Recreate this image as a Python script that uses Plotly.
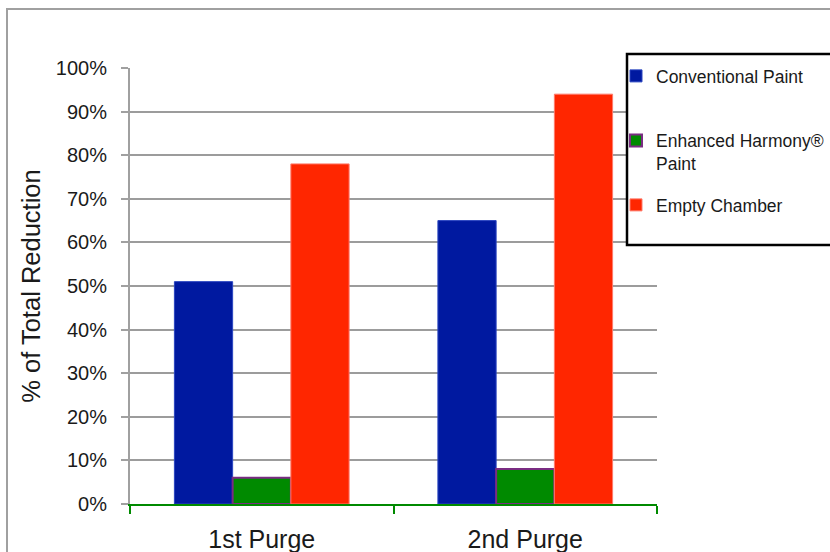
import plotly.graph_objects as go

# Purge results: share of total reduction (%) per test condition
categories = ["1st Purge", "2nd Purge"]
series_names = ["Conventional Paint<br>&nbsp;", "Enhanced Harmony®<br>Paint", "Empty Chamber<br>&nbsp;"]
conventional = [51, 65]
enhanced = [6, 8]
empty_chamber = [78, 94]
y_ticks = [0, 10, 20, 30, 40, 50, 60, 70, 80, 90, 100]
y_tick_text = [f"{v}%" for v in y_ticks]

FONT = "Liberation Sans, Arial, Helvetica, sans-serif"
W, H = 830, 552
L, R, T, B = 130, 173, 68, 48
PW, PH = W - L - R, H - T - B


def px_x(x):
    return (x - L) / PW


def px_y(y):
    return (H - B - y) / PH


fills = ["#0019A0", "#008A00", "#FF2600"]
edges = ["#2a45c0", "#7a2c82", "#ff7a6a"]
edge_w = [1, 2, 1]
values = [conventional, enhanced, empty_chamber]

fig = go.Figure()
for name, vals, fc, ec, ew in zip(series_names, values, fills, edges, edge_w):
    fig.add_trace(go.Bar(
        x=categories, y=vals, name=name,
        marker=dict(color=fc, line=dict(color=ec, width=ew)),
        legendgroup=name,
    ))

fig.update_layout(
    width=W, height=H,
    margin=dict(l=L, r=R, t=T, b=B, autoexpand=False),
    paper_bgcolor="white", plot_bgcolor="white",
    font=dict(family=FONT, color="#1a1a1a"),
    barmode="group", bargap=0.337, bargroupgap=0,
    showlegend=True,
    legend=dict(
        x=px_x(616), y=px_y(58), xanchor="left", yanchor="top",
        bgcolor="rgba(0,0,0,0)", borderwidth=0,
        font=dict(family=FONT, size=17.5, color="#1a1a1a"),
        traceorder="grouped", tracegroupgap=16, valign="top",
        itemclick=False,
    ),
    shapes=[
        # outer chart frame
        dict(type="rect", xref="paper", yref="paper",
             x0=px_x(7), x1=px_x(845), y0=px_y(570), y1=px_y(9),
             line=dict(color="#a0a0a0", width=2), fillcolor="rgba(0,0,0,0)",
             layer="below"),
        # legend box
        dict(type="rect", xref="paper", yref="paper",
             x0=px_x(627), x1=px_x(850), y0=px_y(245), y1=px_y(54),
             line=dict(color="black", width=2.5), fillcolor="white",
             layer="above"),
    ],
)

fig.update_yaxes(
    range=[0, 100], tickmode="array", tickvals=y_ticks, ticktext=y_tick_text,
    showgrid=True, gridcolor="#9c9c9c", gridwidth=1.5,
    zeroline=False,
    showline=True, linecolor="#a0a0a0", linewidth=2,
    ticks="outside", ticklen=7, tickcolor="#a0a0a0", tickwidth=2,
    ticklabelstandoff=10,
    tickfont=dict(family=FONT, size=20, color="#1a1a1a"),
    title=dict(text="% of Total Reduction", standoff=8,
               font=dict(family=FONT, size=25.5, color="#1a1a1a")),
    fixedrange=True,
)
fig.update_xaxes(
    showgrid=False, zeroline=False,
    showline=True, linecolor="#008A00", linewidth=2,
    ticks="outside", tickson="boundaries", ticklen=8,
    tickcolor="#008A00", tickwidth=2,
    tickfont=dict(family=FONT, size=25, color="#1a1a1a"),
    ticklabelstandoff=12,
    fixedrange=True,
)

fig.write_html("out.html")
